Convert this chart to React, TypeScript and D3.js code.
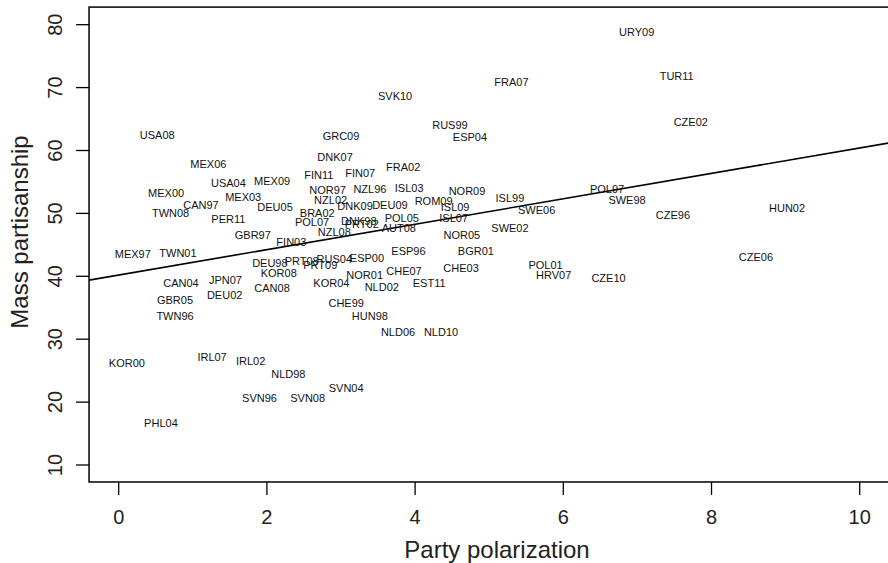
import React, { useEffect, useRef } from 'react';
import * as d3 from 'd3';

// country-year labels, party polarization (x) and mass partisanship (y)
const labels = [
  'URY09', 'TUR11', 'FRA07', 'SVK10', 'CZE02', 'RUS99', 'USA08', 'GRC09', 'ESP04',
  'DNK07', 'MEX06', 'FRA02', 'FIN11', 'FIN07', 'MEX09', 'USA04', 'ISL03', 'NZL96',
  'POL97', 'NOR97', 'NOR09', 'MEX00', 'MEX03', 'ISL99', 'NZL02', 'SWE98', 'ROM09',
  'CAN97', 'DEU09', 'DNK09', 'DEU05', 'ISL09', 'HUN02', 'SWE06', 'TWN08', 'BRA02',
  'CZE96', 'ISL07', 'POL05', 'PER11', 'DNK98', 'POL07', 'PRT02', 'AUT08', 'SWE02',
  'NZL08', 'GBR97', 'NOR05', 'FIN03', 'ESP96', 'BGR01', 'TWN01', 'MEX97', 'CZE06',
  'ESP00', 'RUS04', 'PRT08', 'DEU98', 'POL01', 'PRT09', 'CHE03', 'CHE07', 'KOR08',
  'NOR01', 'HRV07', 'CZE10', 'JPN07', 'CAN04', 'KOR04', 'EST11', 'NLD02', 'CAN08',
  'DEU02', 'GBR05', 'CHE99', 'TWN96', 'HUN98', 'NLD06', 'NLD10', 'IRL07', 'IRL02',
  'KOR00', 'NLD98', 'SVN04', 'SVN96', 'SVN08', 'PHL04'
];
const polarization = [
  6.99, 7.53, 5.30, 3.73, 7.72, 4.47, 0.52, 3.00, 4.74,
  2.92, 1.21, 3.84, 2.70, 3.26, 2.07, 1.48, 3.92, 3.39,
  6.59, 2.82, 4.70, 0.64, 1.68, 5.28, 2.86, 6.86, 4.25,
  1.11, 3.66, 3.19, 2.11, 4.54, 9.02, 5.64, 0.70, 2.68,
  7.48, 4.52, 3.82, 1.48, 3.24, 2.61, 3.28, 3.78, 5.28,
  2.91, 1.81, 4.63, 2.33, 3.91, 4.82, 0.80, 0.19, 8.60,
  3.35, 2.91, 2.47, 2.04, 5.76, 2.72, 4.62, 3.85, 2.16,
  3.32, 5.87, 6.61, 1.44, 0.84, 2.87, 4.19, 3.55, 2.07,
  1.43, 0.76, 3.07, 0.76, 3.39, 3.77, 4.35, 1.26, 1.78,
  0.11, 2.29, 3.07, 1.90, 2.55, 0.57
];
const partisanship = [
  78.9, 71.8, 70.9, 68.7, 64.6, 64.1, 62.4, 62.3, 62.2,
  59.0, 57.8, 57.4, 56.1, 56.4, 55.1, 54.9, 54.0, 53.8,
  53.8, 53.7, 53.5, 53.3, 52.6, 52.4, 52.1, 52.1, 51.9,
  51.3, 51.3, 51.1, 51.0, 51.0, 50.8, 50.5, 50.0, 50.1,
  49.7, 49.2, 49.2, 49.1, 48.8, 48.7, 48.3, 47.6, 47.6,
  47.0, 46.5, 46.5, 45.5, 44.0, 44.0, 43.7, 43.5, 43.0,
  42.9, 42.7, 42.4, 42.1, 41.8, 41.8, 41.3, 40.8, 40.5,
  40.2, 40.2, 39.7, 39.4, 38.9, 38.9, 38.9, 38.3, 38.1,
  37.1, 36.2, 35.8, 33.7, 33.7, 31.2, 31.1, 27.2, 26.5,
  26.2, 24.4, 22.2, 20.6, 20.6, 16.6
];

const xTicks = [0, 2, 4, 6, 8, 10];
const yTicks = [10, 20, 30, 40, 50, 60, 70, 80];
const xLimits = [-0.4, 10.5];
const yLimits = [7.3, 82.8];

// fitted OLS line
const fitIntercept = 40.2;
const fitSlope = 2.02;

const W = 888;
const H = 563;

const App: React.FC = () => {
  const ref = useRef<SVGSVGElement | null>(null);

  useEffect(() => {
    if (!ref.current) return;
    const svg = d3.select(ref.current);
    svg.selectAll('*').remove();

    const x = d3.scaleLinear().domain([0, 10]).range([118.7, 859.7]);
    const y = d3.scaleLinear().domain([10, 80]).range([465, 24.7]);

    const axisFont = "'Liberation Sans Narrow', 'Arial Narrow', 'Liberation Sans', sans-serif";
    const labelFont = "'Liberation Sans', Arial, Helvetica, sans-serif";

    const left = x(xLimits[0]);
    const right = x(xLimits[1]);
    const top = y(yLimits[1]);
    const bottom = y(yLimits[0]);

    svg.append('defs').append('clipPath').attr('id', 'plot-clip')
      .append('rect')
      .attr('x', left).attr('y', top)
      .attr('width', right - left).attr('height', bottom - top);

    // regression line
    svg.append('line')
      .attr('clip-path', 'url(#plot-clip)')
      .attr('x1', x(xLimits[0]))
      .attr('y1', y(fitIntercept + fitSlope * xLimits[0]))
      .attr('x2', x(xLimits[1]))
      .attr('y2', y(fitIntercept + fitSlope * xLimits[1]))
      .attr('stroke', '#000')
      .attr('stroke-width', 1.6);

    // point labels
    svg.append('g')
      .selectAll('text')
      .data(labels)
      .enter().append('text')
      .attr('x', (d, i) => x(polarization[i]))
      .attr('y', (d, i) => y(partisanship[i]))
      .attr('text-anchor', 'middle')
      .attr('dominant-baseline', 'central')
      .style('font-family', labelFont)
      .style('font-size', '11px')
      .style('fill', '#111')
      .text(d => d);

    // box
    svg.append('rect')
      .attr('x', left).attr('y', top)
      .attr('width', right - left).attr('height', bottom - top)
      .attr('fill', 'none')
      .attr('stroke', '#000')
      .attr('stroke-width', 1.5);

    // x axis
    const xAxis = svg.append('g');
    xAxis.selectAll('line')
      .data(xTicks)
      .enter().append('line')
      .attr('x1', d => x(d)).attr('x2', d => x(d))
      .attr('y1', bottom).attr('y2', bottom + 13)
      .attr('stroke', '#000').attr('stroke-width', 1.3);
    xAxis.selectAll('text')
      .data(xTicks)
      .enter().append('text')
      .attr('x', d => x(d))
      .attr('y', 517)
      .attr('text-anchor', 'middle')
      .attr('dominant-baseline', 'central')
      .style('font-family', axisFont)
      .style('font-size', '20px')
      .style('fill', '#222')
      .text(d => d);

    // y axis
    const yAxis = svg.append('g');
    yAxis.selectAll('line')
      .data(yTicks)
      .enter().append('line')
      .attr('x1', left - 13).attr('x2', left)
      .attr('y1', d => y(d)).attr('y2', d => y(d))
      .attr('stroke', '#000').attr('stroke-width', 1.3);
    yAxis.selectAll('text')
      .data(yTicks)
      .enter().append('text')
      .attr('transform', d => `translate(55, ${y(d)}) rotate(-90)`)
      .attr('text-anchor', 'middle')
      .attr('dominant-baseline', 'central')
      .style('font-family', axisFont)
      .style('font-size', '20px')
      .style('fill', '#222')
      .text(d => d);

    // titles
    svg.append('text')
      .attr('x', 497)
      .attr('y', 549)
      .attr('text-anchor', 'middle')
      .attr('dominant-baseline', 'central')
      .style('font-family', axisFont)
      .style('font-size', '24px')
      .style('fill', '#222')
      .text('Party polarization');

    svg.append('text')
      .attr('transform', 'translate(19, 232) rotate(-90)')
      .attr('text-anchor', 'middle')
      .attr('dominant-baseline', 'central')
      .style('font-family', axisFont)
      .style('font-size', '24px')
      .style('fill', '#222')
      .text('Mass partisanship');
  }, []);

  return (
    <svg
      ref={ref}
      width={W}
      height={H}
      style={{ position: 'absolute', left: 0, top: 0, background: '#fff' }}
    />
  );
};

export default App;
